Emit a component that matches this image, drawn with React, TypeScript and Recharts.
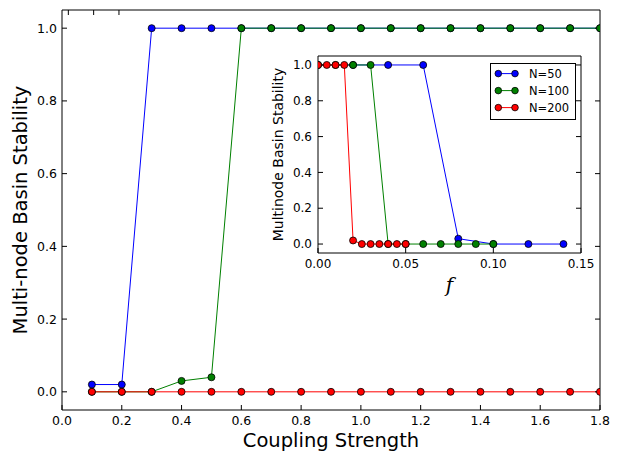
import * as React from "react";
import { LineChart, Line, XAxis, YAxis, Legend, CartesianGrid } from "recharts";

// main panel: basin stability vs coupling strength
const couplingStrength = [0.1, 0.2, 0.3, 0.4, 0.5, 0.6, 0.7, 0.8, 0.9, 1.0, 1.1, 1.2, 1.3, 1.4, 1.5, 1.6, 1.7, 1.8];
const stabilityN50 = [0.02, 0.02, 1, 1, 1, 1, 1, 1, 1, 1, 1, 1, 1, 1, 1, 1, 1, 1];
const stabilityN100 = [0, 0, 0, 0.03, 0.04, 1, 1, 1, 1, 1, 1, 1, 1, 1, 1, 1, 1, 1];
const stabilityN200 = [0, 0, 0, 0, 0, 0, 0, 0, 0, 0, 0, 0, 0, 0, 0, 0, 0, 0];

const mainXTicks = [0, 0.2, 0.4, 0.6, 0.8, 1.0, 1.2, 1.4, 1.6, 1.8];
const yTicks = [0, 0.2, 0.4, 0.6, 0.8, 1.0];

// inset: basin stability vs f
const fractionN50 = [0, 0.02, 0.04, 0.06, 0.08, 0.1, 0.12, 0.14];
const insetN50 = [1, 1, 1, 1, 0.03, 0, 0, 0];
const fractionN100 = [0, 0.01, 0.02, 0.03, 0.04, 0.05, 0.06, 0.07, 0.08, 0.09, 0.1];
const insetN100 = [1, 1, 1, 1, 0, 0, 0, 0, 0, 0, 0];
const fractionN200 = [0, 0.005, 0.01, 0.015, 0.02, 0.025, 0.03, 0.035, 0.04, 0.045, 0.05];
const insetN200 = [1, 1, 1, 1, 0.02, 0, 0, 0, 0, 0, 0];
const insetXTicks = [0, 0.05, 0.1, 0.15];

const seriesNames = ["N=50", "N=100", "N=200"];
const seriesColors = ["#0000ff", "#008000", "#ff0000"];

const FONT = "DejaVu Sans";
const yDomain: [number, number] = [-0.05, 1.05];

const mainData = couplingStrength.map((cs, i) => ({
    cs,
    n50: stabilityN50[i],
    n100: stabilityN100[i],
    n200: stabilityN200[i],
}));

const toRows = (xs: number[], ys: number[]) => xs.map((f, i) => ({ f, bs: ys[i] }));
const insetSeries = [
    toRows(fractionN50, insetN50),
    toRows(fractionN100, insetN100),
    toRows(fractionN200, insetN200),
];

const noTick = () => <g />;

const dotFor = (color: string) => ({ r: 3.5, fill: color, stroke: "#000", strokeWidth: 0.8, clipDot: true });

// matplotlib style legend: short line with a marker at each end
const InsetLegend = () => (
    <svg width={86} height={57} style={{ display: "block" }}>
        <rect x={0.5} y={0.5} width={85} height={56} fill="#fff" stroke="#000" />
        {seriesNames.map((name, i) => {
            const y = 10.6 + i * 17;
            const color = seriesColors[i];
            return (
                <g key={name}>
                    <line x1={8.3} x2={25} y1={y} y2={y} stroke={color} />
                    <circle cx={8.3} cy={y} r={3.3} fill={color} stroke="#000" strokeWidth={0.8} />
                    <circle cx={25} cy={y} r={3.3} fill={color} stroke="#000" strokeWidth={0.8} />
                    <text x={39} y={y} dy="0.36em" fontSize={11.5} fontFamily={FONT} fill="#000">
                        {name}
                    </text>
                </g>
            );
        })}
    </svg>
);

const MainChart = () => (
    <LineChart width={619} height={454} data={mainData} margin={{ top: 0, right: 0, bottom: 0, left: 0 }}>
        <XAxis
            dataKey="cs"
            type="number"
            domain={[0, 1.8]}
            ticks={mainXTicks}
            allowDataOverflow
            height={44}
            stroke="#000"
            tickSize={-5}
            tickMargin={11}
            tickFormatter={(v: number) => v.toFixed(1)}
            tick={{ fill: "#000", fontSize: 12.5, fontFamily: FONT }}
            label={{ value: "Coupling Strength", position: "insideBottom", offset: 7, fill: "#000", fontSize: 19.5, fontFamily: FONT }}
        />
        <XAxis xAxisId="top" orientation="top" type="number" domain={[0, 1.8]} ticks={mainXTicks}
            allowDataOverflow height={10} stroke="#000" tickSize={-5} tick={noTick} />
        <YAxis
            type="number"
            domain={yDomain}
            ticks={yTicks}
            allowDataOverflow
            width={62}
            stroke="#000"
            tickSize={-5}
            tickMargin={10}
            tickFormatter={(v: number) => v.toFixed(1)}
            tick={{ fill: "#000", fontSize: 12.5, fontFamily: FONT }}
            label={{
                value: "Multi-node Basin Stability",
                angle: -90,
                position: "insideLeft",
                offset: 20,
                fill: "#000",
                fontSize: 19.5,
                fontFamily: FONT,
                style: { textAnchor: "middle" },
            }}
        />
        <YAxis yAxisId="right" orientation="right" type="number" domain={yDomain} ticks={yTicks}
            allowDataOverflow width={19} stroke="#000" tickSize={-5} tick={noTick} />
        <Line dataKey="n50" stroke={seriesColors[0]} strokeWidth={1} dot={dotFor(seriesColors[0])} activeDot={false} isAnimationActive={false} />
        <Line dataKey="n100" stroke={seriesColors[1]} strokeWidth={1} dot={dotFor(seriesColors[1])} activeDot={false} isAnimationActive={false} />
        <Line dataKey="n200" stroke={seriesColors[2]} strokeWidth={1} dot={dotFor(seriesColors[2])} activeDot={false} isAnimationActive={false} />
    </LineChart>
);

const InsetChart = () => (
    <LineChart width={380} height={270} margin={{ top: 0, right: 0, bottom: 0, left: 0 }}>
        <CartesianGrid horizontal={false} vertical={false} fill="#fff" />
        <XAxis
            dataKey="f"
            type="number"
            domain={[0, 0.15]}
            ticks={insetXTicks}
            allowDataOverflow
            height={57}
            stroke="#000"
            tickSize={-5}
            tickMargin={11}
            tickFormatter={(v: number) => v.toFixed(2)}
            tick={{ fill: "#000", fontSize: 12, fontFamily: FONT }}
            label={{ value: "f", position: "insideBottom", offset: 18, fill: "#000", fontSize: 20, fontFamily: "DejaVu Serif", fontStyle: "italic" }}
        />
        <XAxis xAxisId="top" orientation="top" type="number" domain={[0, 0.15]} ticks={insetXTicks}
            allowDataOverflow height={16} stroke="#000" tickSize={-5} tick={noTick} />
        <YAxis
            type="number"
            domain={yDomain}
            ticks={yTicks}
            allowDataOverflow
            width={88}
            stroke="#000"
            tickSize={-5}
            tickMargin={11}
            tickFormatter={(v: number) => v.toFixed(1)}
            tick={{ fill: "#000", fontSize: 12, fontFamily: FONT }}
            label={{
                value: "Multinode Basin Stability",
                angle: -90,
                position: "insideLeft",
                offset: 48,
                fill: "#000",
                fontSize: 14,
                fontFamily: FONT,
                style: { textAnchor: "middle" },
            }}
        />
        <YAxis yAxisId="right" orientation="right" type="number" domain={yDomain} ticks={yTicks}
            allowDataOverflow width={29} stroke="#000" tickSize={-5} tick={noTick} />
        {insetSeries.map((rows, i) => (
            <Line
                key={seriesNames[i]}
                name={seriesNames[i]}
                data={rows}
                dataKey="bs"
                stroke={seriesColors[i]}
                strokeWidth={1}
                dot={dotFor(seriesColors[i])}
                activeDot={false}
                isAnimationActive={false}
            />
        ))}
        <Legend
            layout="vertical"
            align="center"
            verticalAlign="middle"
            content={InsetLegend}
            wrapperStyle={{ left: 260, top: 22.7, width: 86, height: 57 }}
        />
    </LineChart>
);

export default function App() {
    return (
        <div style={{ position: "absolute", left: 0, top: 0, width: 619, height: 454, background: "#fff" }}>
            <MainChart />
            <div style={{ position: "absolute", left: 230, top: 40, width: 380, height: 270 }}>
                <InsetChart />
            </div>
        </div>
    );
}
